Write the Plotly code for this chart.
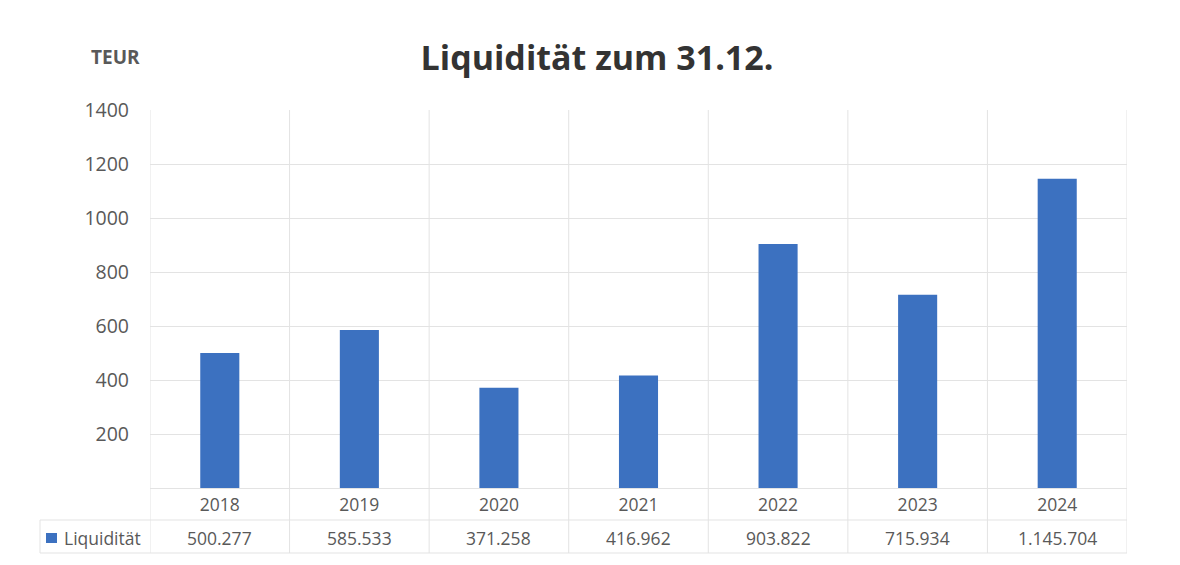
import plotly.graph_objects as go

years = ["2018", "2019", "2020", "2021", "2022", "2023", "2024"]
values = [500.277, 585.533, 371.258, 416.962, 903.822, 715.934, 1145.704]
value_labels = ["500.277", "585.533", "371.258", "416.962", "903.822", "715.934", "1.145.704"]
y_ticks = [200, 400, 600, 800, 1000, 1200, 1400]
series_name = "Liquidität"

OFF = 8  # page body offset
W, H = 1180 - OFF, 565 - OFF
L, T = 150 - OFF, 110 - OFF
R = W - (1127 - OFF)
B = H - (488 - OFF)
ph = H - T - B
pw = W - L - R

def py(pix):
    return (H - B - (pix - OFF)) / ph

def px(pix):
    return (pix - OFF - L) / pw

bar_color = "#3C71C0"
grid = "#E3E3E3"
txt = "#595959"
font = "Open Sans"

xs = list(range(len(years)))
fig = go.Figure(go.Bar(x=xs, y=values, width=0.28, marker=dict(color=bar_color, line=dict(width=0)),
                       name=series_name, showlegend=False))

shapes = []
for i in range(len(years) + 1):
    shapes.append(dict(type="line", xref="x", yref="paper", x0=i - 0.5, x1=i - 0.5,
                       y0=py(553), y1=1, line=dict(color=grid, width=1), layer="below"))
for yy in [520, 553]:
    shapes.append(dict(type="line", xref="paper", yref="paper", x0=px(40), x1=1,
                       y0=py(yy), y1=py(yy), line=dict(color=grid, width=1), layer="below"))
shapes.append(dict(type="line", xref="paper", yref="paper", x0=px(40), x1=px(40),
                   y0=py(553), y1=py(520), line=dict(color=grid, width=1), layer="below"))
# legend key square
shapes.append(dict(type="rect", xref="paper", yref="paper", x0=px(46), x1=px(57),
                   y0=py(543), y1=py(533), fillcolor=bar_color, line=dict(width=0)))

annotations = []
for i, lab in enumerate(value_labels):
    annotations.append(dict(x=i, y=py(538), xref="x", yref="paper", text=lab, showarrow=False,
                            xanchor="center", yanchor="middle",
                            font=dict(family=font, size=17.5, color=txt)))
annotations.append(dict(x=px(62), y=py(538), xref="paper", yref="paper", xanchor="left", yanchor="middle",
                        text=series_name, showarrow=False,
                        font=dict(family=font, size=17.5, color=txt)))
annotations.append(dict(x=px(115), y=py(57), xref="paper", yref="paper", text="<b>TEUR</b>",
                        xanchor="center", yanchor="middle",
                        showarrow=False, font=dict(family=font, size=19, color=txt)))

fig.update_layout(
    width=W, height=H, autosize=False,
    margin=dict(l=L, r=R, t=T, b=B),
    paper_bgcolor="white", plot_bgcolor="white",
    title=dict(text="<b>Liquidität zum 31.12.</b>", x=(597 - OFF) / W, xanchor="center",
               y=1 - (58 - OFF) / H, yanchor="middle",
               font=dict(family=font, size=34, color="#333333")),
    xaxis=dict(tickmode="array", tickvals=xs, ticktext=years, range=[-0.5, len(years) - 0.5],
               showgrid=False, zeroline=False, showline=False, ticks="",
               ticklabelstandoff=4,
               tickfont=dict(family=font, size=17.5, color=txt)),
    yaxis=dict(range=[0, 1400], tickmode="array", tickvals=y_ticks, showgrid=True, gridcolor=grid,
               gridwidth=1, zeroline=True, zerolinecolor=grid, zerolinewidth=1, showline=False,
               ticklabelstandoff=20,
               tickfont=dict(family=font, size=19.5, color=txt)),
    shapes=shapes, annotations=annotations,
)

fig.write_html("out.html")
